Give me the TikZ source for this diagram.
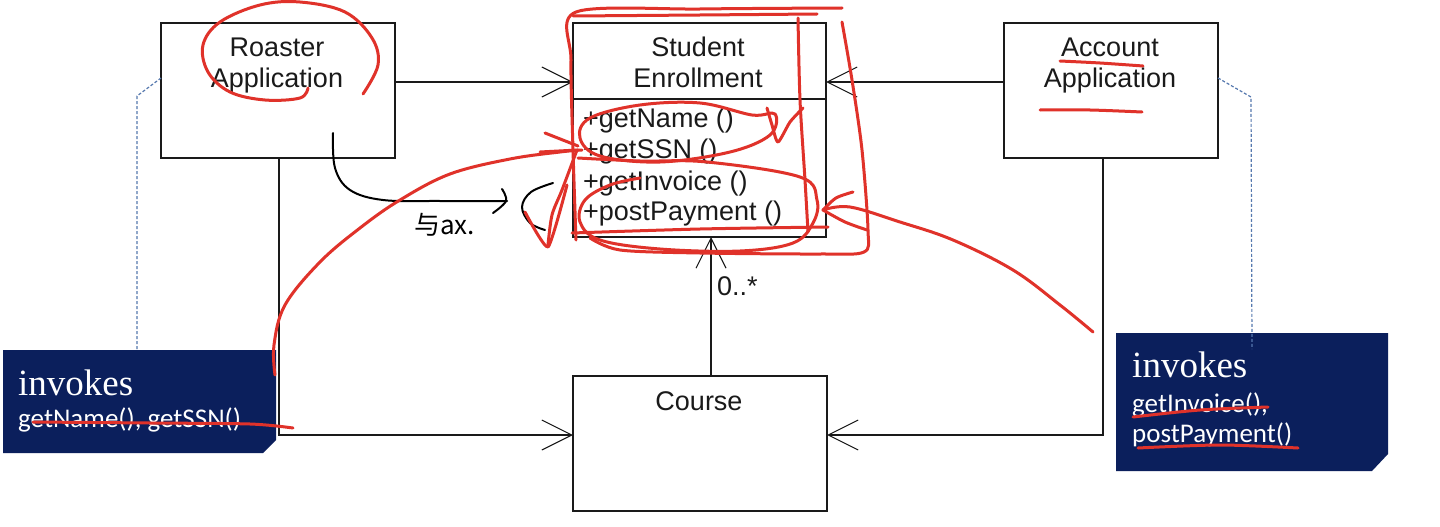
\documentclass[tikz,border=0pt]{standalone}
\usepackage{fontspec}
\setmainfont{Liberation Sans}
\newfontfamily\notesrf{Liberation Serif}
\newfontfamily\notesans{Carlito}
\newfontfamily\cjk{Noto Sans CJK SC}
\usetikzlibrary{arrows.meta}
\definecolor{navy}{HTML}{0B1F5C}
\definecolor{pen}{HTML}{E0322A}
\definecolor{linkblue}{HTML}{5578AE}
\definecolor{ink}{HTML}{1A1A1A}
\tikzset{
  box/.style={draw=ink, line width=1.6pt, inner sep=0pt, outer sep=0pt, rectangle},
  conn/.style={draw=ink, line width=1.5pt, -{Straight Barb[length=30pt,width=30pt,line width=1.1pt]}},
  cls/.style={font=\fontsize{27}{32}\selectfont, text=ink, inner sep=0pt, anchor=base},
  meth/.style={font=\fontsize{27}{32}\selectfont, text=ink, inner sep=0pt, anchor=base west},
  notebox/.style={rectangle, draw=none, inner sep=0pt, outer sep=0pt},
  notebig/.style={font=\notesrf\fontsize{37}{40}\selectfont, text=white, inner sep=0pt, anchor=base west},
  notesmall/.style={font=\notesans\fontsize{27}{30}\selectfont, text=white, inner sep=0pt, anchor=base west},
  notelink/.style={draw=linkblue, line width=1.2pt, dash pattern=on 3pt off 2pt},
  redpen/.style={draw=pen, line width=3pt, line cap=round, line join=round},
  blackpen/.style={draw=black, line width=2pt, line cap=round, line join=round}
}
\begin{document}
\begin{tikzpicture}[x=1pt,y=-1pt]
\fill[white] (0,0) rectangle (1440,527);
\useasboundingbox (0,0) rectangle (1440,527);

% class boxes
\node[box, minimum width=234pt, minimum height=135pt] (roaster) at (278,90.5) {};
\node[box, minimum width=253pt, minimum height=214pt] (student) at (699.5,130) {};
\draw[draw=ink, line width=1.6pt] (student.west |- 0,99) -- (student.east |- 0,99);
\node[box, minimum width=214pt, minimum height=135pt] (account) at (1111,90.5) {};
\node[box, minimum width=254pt, minimum height=135pt] (course) at (700,443.5) {};

% class texts
\node[cls] (r1) at (277,57) {Roaster};
\node[cls] (r2) at (277,88) {Application};
\node[cls] (s1) at (698,57) {Student};
\node[cls] (s2) at (698,88) {Enrollment};
\node[meth] (m1) at (583,127) {+getName ()};
\node[meth] (m2) at (583,158) {+getSSN ()};
\node[meth] (m3) at (583,190) {+getInvoice ()};
\node[meth] (m4) at (583,220) {+postPayment ()};
\node[cls] (a1) at (1110,57) {Account};
\node[cls] (a2) at (1110,88) {Application};
\node[cls] (c1) at (699,410) {Course};

% connectors
\draw[conn] (roaster.east |- 0,82) -- (student.west |- 0,82);
\draw[conn] (account.west |- 0,82) -- (student.east |- 0,82);
\draw[conn] (roaster.south -| 279,0) |- (course.west |- 0,435);
\draw[conn] (account.south -| 1103,0) |- (course.east |- 0,435);
\draw[conn] (course.north -| 711,0) -- (student.south -| 711,0);
\node[cls, anchor=base west] (mult) at (717,295) {0..*};

% notes
\node[notebox, minimum width=273pt, minimum height=103pt] (lnote) at (139.5,401.5) {};
\fill[navy] (lnote.north west) -- (lnote.north east) -- ([yshift=13pt]lnote.south east) -- ([xshift=-13pt]lnote.south east) -- (lnote.south west) -- cycle;
\node[notebox, minimum width=272pt, minimum height=138pt] (rnote) at (1252,402) {};
\fill[navy] (rnote.north west) -- (rnote.north east) -- ([yshift=17pt]rnote.south east) -- ([xshift=-16pt]rnote.south east) -- (rnote.south west) -- cycle;
\node[notebig] (ln1) at (18,395) {invokes};
\node[notesmall] (ln2) at (18,427) {getName(), getSSN()};
\node[notebig] (rn1) at (1132,377) {invokes};
\node[notesmall] (rn2) at (1132,412) {getInvoice(),};
\node[notesmall] (rn3) at (1132,442) {postPayment()};

% note links
\draw[notelink] (roaster.west |- 0,78) -- (137,96) -- (lnote.north -| 137,0);
\draw[notelink] (account.east |- 0,78) -- (1251,97) -- (1252,349);

% black handwriting
\draw[blackpen] plot[smooth, tension=0.6] coordinates {(333,133) (335,168) (350,190) (383,200) (440,201) (507,201)};
\draw[blackpen] plot[smooth, tension=0.6] coordinates {(502,189) (506,201) (493,213)};
\draw[blackpen] plot[smooth, tension=0.6] coordinates {(553,183) (531,192) (522,207) (530,223) (545,230)};
\node[font=\cjk\fontsize{26}{28}\selectfont, inner sep=0pt, anchor=base west] (hw) at (414,234) {与ax.};

% red handwriting
\draw[redpen] plot[smooth, tension=0.6] coordinates {(308,88) (300,98) (265,100) (230,92) (208,72) (203,45) (220,22) (260,5) (300,2) (345,12) (372,38) (378,65) (363,94)};
\draw[redpen] plot[smooth, tension=0.5] coordinates {(576,240) (573,150) (571,60) (576,12) (700,9) (842,8)};
\draw[redpen] plot[smooth, tension=0.5] coordinates {(573,16) (700,15) (817,14)};
\draw[redpen] plot[smooth, tension=0.5] coordinates {(798,18) (800,100) (805,180) (808,232)};
\draw[redpen] plot[smooth, tension=0.5] coordinates {(572,233) (700,229) (828,227)};
\draw[redpen] plot[smooth, tension=0.5] coordinates {(842,22) (852,80) (862,150) (868,230) (864,252) (820,254) (700,253) (620,250) (590,238)};
\draw[redpen] plot[smooth cycle, tension=0.6] coordinates {(752,115) (700,103) (640,105) (590,118) (580,138) (600,156) (660,162) (730,152) (770,135) (775,114)};
\draw[redpen] plot[smooth, tension=0.4] coordinates {(767,108) (772,125) (778,142) (790,122) (803,108)};
\draw[redpen] plot[smooth, tension=0.6] coordinates {(578,158) (640,161) (707,162) (800,177) (817,200) (813,223) (793,243) (740,251) (660,249) (600,240) (580,222) (585,200) (610,185) (640,178)};
\draw[redpen] plot[smooth, tension=0.6] coordinates {(275,375) (274,345) (285,305) (320,262) (360,228) (400,200) (450,174) (510,159) (560,152) (582,150)};
\draw[redpen] (545,133) -- (578,146);
\draw[redpen] (540,152) -- (578,150);
\draw[redpen] plot[smooth, tension=0.5] coordinates {(577,150) (562,190) (552,215) (548,245)};
\draw[redpen] plot[smooth, tension=0.3] coordinates {(525,212) (548,247) (567,185)};
\draw[redpen] plot[smooth, tension=0.6] coordinates {(1093,332) (1060,305) (1013,270) (953,240) (900,222) (850,207) (823,210)};
\draw[redpen] plot[smooth, tension=0.5] coordinates {(823,210) (836,198) (853,192)};
\draw[redpen] plot[smooth, tension=0.5] coordinates {(823,210) (845,222) (867,230)};
\draw[redpen] plot[smooth, tension=0.5] coordinates {(1060,61) (1100,63) (1143,66)};
\draw[redpen] plot[smooth, tension=0.5] coordinates {(1040,110) (1090,110) (1142,112)};
\draw[redpen] plot[smooth, tension=0.5] coordinates {(33,422) (150,423) (250,424) (293,428)};
\draw[redpen] plot[smooth, tension=0.5] coordinates {(1133,417) (1200,410) (1268,407)};
\draw[redpen] plot[smooth, tension=0.5] coordinates {(1138,448) (1220,445) (1298,448)};
\end{tikzpicture}
\end{document}
